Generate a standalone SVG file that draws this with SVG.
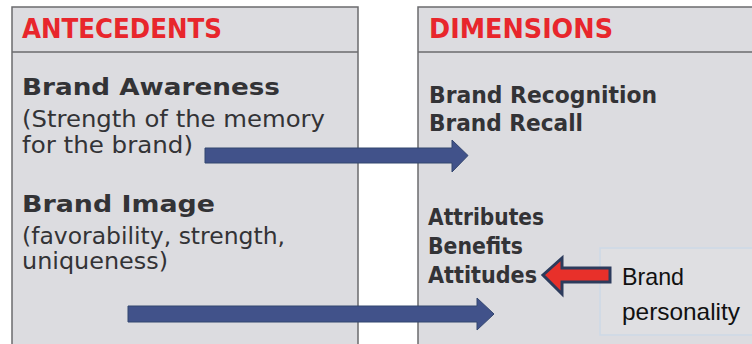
<svg xmlns="http://www.w3.org/2000/svg" width="752" height="344" viewBox="0 0 752 344">
<style>
.box{fill:#dcdce0;stroke:#6b6b6e;stroke-width:1.5}
.hdr{font-family:"DejaVu Sans","Liberation Sans",sans-serif;font-weight:bold;font-size:26px;fill:#e8262c}
.b{font-family:"DejaVu Sans","Liberation Sans",sans-serif;font-weight:bold;font-size:23px;fill:#333336}
.r{font-family:"DejaVu Sans","Liberation Sans",sans-serif;font-size:23px;fill:#333336}
.c{font-family:"Liberation Sans","Noto Sans",sans-serif;font-size:24px;fill:#111}
.blue{fill:#41528a;stroke:#33466f;stroke-width:1}
</style>
<rect width="752" height="344" fill="#ffffff"/>
<g id="antecedents">
<rect class="box" x="12" y="7" width="346" height="345"/>
<line x1="12" y1="52" x2="358" y2="52" stroke="#6b6b6e" stroke-width="1.5"/>
<text class="hdr" x="22" y="38" textLength="200" lengthAdjust="spacingAndGlyphs">ANTECEDENTS</text>
<text class="b" x="22" y="95" font-size="25" textLength="258" lengthAdjust="spacingAndGlyphs">Brand Awareness</text>
<text class="r" x="22" y="127" textLength="303" lengthAdjust="spacingAndGlyphs">(Strength of the memory</text>
<text class="r" x="22" y="153" textLength="171" lengthAdjust="spacingAndGlyphs">for the brand)</text>
<text class="b" x="22" y="212" font-size="25" textLength="193" lengthAdjust="spacingAndGlyphs">Brand Image</text>
<text class="r" x="22" y="244" textLength="263" lengthAdjust="spacingAndGlyphs">(favorability, strength,</text>
<text class="r" x="22" y="269" textLength="146" lengthAdjust="spacingAndGlyphs">uniqueness)</text>
</g>
<g id="dimensions">
<rect class="box" x="418" y="7" width="345" height="345"/>
<line x1="418" y1="52" x2="763" y2="52" stroke="#6b6b6e" stroke-width="1.5"/>
<text class="hdr" x="429" y="38" textLength="184" lengthAdjust="spacingAndGlyphs">DIMENSIONS</text>
<text class="b" x="429" y="103" textLength="228" lengthAdjust="spacingAndGlyphs">Brand Recognition</text>
<text class="b" x="429" y="131" textLength="154" lengthAdjust="spacingAndGlyphs">Brand Recall</text>
<text class="b" x="428" y="225" textLength="116" lengthAdjust="spacingAndGlyphs">Attributes</text>
<text class="b" x="428" y="254" textLength="95" lengthAdjust="spacingAndGlyphs">Benefits</text>
<text class="b" x="428" y="283" textLength="109" lengthAdjust="spacingAndGlyphs">Attitudes</text>
</g>
<g id="brand-personality">
<rect x="600" y="248" width="160" height="87" fill="#dfdfe2" stroke="#cdd9e6" stroke-width="1.5"/>
<text class="c" x="622" y="285" textLength="62" lengthAdjust="spacingAndGlyphs">Brand</text>
<text class="c" x="622" y="320" textLength="118" lengthAdjust="spacingAndGlyphs">personality</text>
</g>
<g id="connectors">
<polygon class="blue" points="205,148 452,148 452,140 468,155.5 452,172 452,163 205,163"/>
<polygon class="blue" points="128,306 477,306 477,298 494,314 477,330 477,322 128,322"/>
<polygon points="610,268 562,268 562,258 543,275 562,294 562,282 610,282" fill="#e8302a" stroke="#2c3b5c" stroke-width="3" stroke-linejoin="miter"/>
</g>
</svg>
